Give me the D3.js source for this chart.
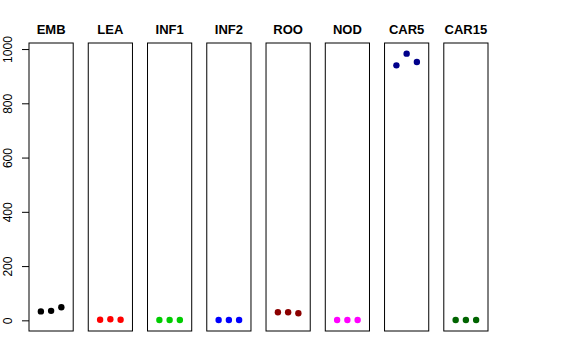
<!DOCTYPE html>
<meta charset="utf-8">
<script src="https://d3js.org/d3.v7.min.js"></script>
<style>
  body { margin: 0; background: #fff; }
  text { font-family: "Liberation Sans", Arial, sans-serif; }
</style>
<div id="chart"></div>
<script>
// tissues, colours and the three replicate values for each
const tissues = ["EMB", "LEA", "INF1", "INF2", "ROO", "NOD", "CAR5", "CAR15"];
const colors = ["#000000", "#FF0000", "#00CD00", "#0000FF", "#8B0000", "#FF00FF", "#00008B", "#006400"];
const rep1 = [33, 2, 1, 1, 30, 1, 940, 1];
const rep2 = [35, 4, 1, 1, 30, 1, 983, 1];
const rep3 = [48, 2, 1, 1, 26, 1, 952, 1];
const yTicks = [0, 200, 400, 600, 800, 1000];

var width = 576, height = 360;

var svg = d3.select("#chart").append("svg")
    .attr("width", width)
    .attr("height", height);

// one panel per tissue
var panel = d3.scaleBand()
    .domain(tissues)
    .range([29, 488])
    .paddingInner(0.254)
    .paddingOuter(0);

var y = d3.scaleLinear()
    .domain([-39.3, 1022.3])
    .range([331, 43]);

// x inside a panel: replicate 1..3 on a 0..4 range (R style 4% extension)
var x = d3.scaleLinear()
    .domain([-0.16, 4.16])
    .range([0, panel.bandwidth()]);

// left axis, labels turned vertical like R
var yAxis = svg.append("g")
    .attr("transform", "translate(" + panel(tissues[0]) + ",0)")
    .call(d3.axisLeft(y).tickValues(yTicks).tickFormat(d3.format("d")).tickSize(7).tickSizeOuter(0));
yAxis.select(".domain").remove();
yAxis.selectAll("line").attr("stroke", "#000");
yAxis.selectAll("text")
    .attr("font-size", 12)
    .attr("fill", "#000")
    .attr("x", 0)
    .attr("y", 0)
    .attr("dy", 0)
    .attr("text-anchor", "middle")
    .attr("transform", "translate(-17,0) rotate(-90)");

var rows = tissues.map(function (t, i) {
    return { name: t, color: colors[i], values: [rep1[i], rep2[i], rep3[i]] };
});

var g = svg.selectAll(".panel")
    .data(rows)
    .enter().append("g")
    .attr("class", "panel")
    .attr("transform", function (d) { return "translate(" + panel(d.name) + ",0)"; });

g.append("rect")
    .attr("x", 0)
    .attr("y", y.range()[1])
    .attr("width", panel.bandwidth())
    .attr("height", y.range()[0] - y.range()[1])
    .attr("fill", "none")
    .attr("stroke", "#000")
    .attr("stroke-width", 1);

g.append("text")
    .attr("x", panel.bandwidth() / 2)
    .attr("y", 34)
    .attr("text-anchor", "middle")
    .attr("font-size", 13)
    .attr("font-weight", "bold")
    .text(function (d) { return d.name; });

g.selectAll("circle")
    .data(function (d) { return d.values.map(function (v, j) { return { v: v, j: j + 1, color: d.color }; }); })
    .enter().append("circle")
    .attr("cx", function (d) { return x(d.j); })
    .attr("cy", function (d) { return y(d.v); })
    .attr("r", 3.2)
    .attr("fill", function (d) { return d.color; });
</script>
